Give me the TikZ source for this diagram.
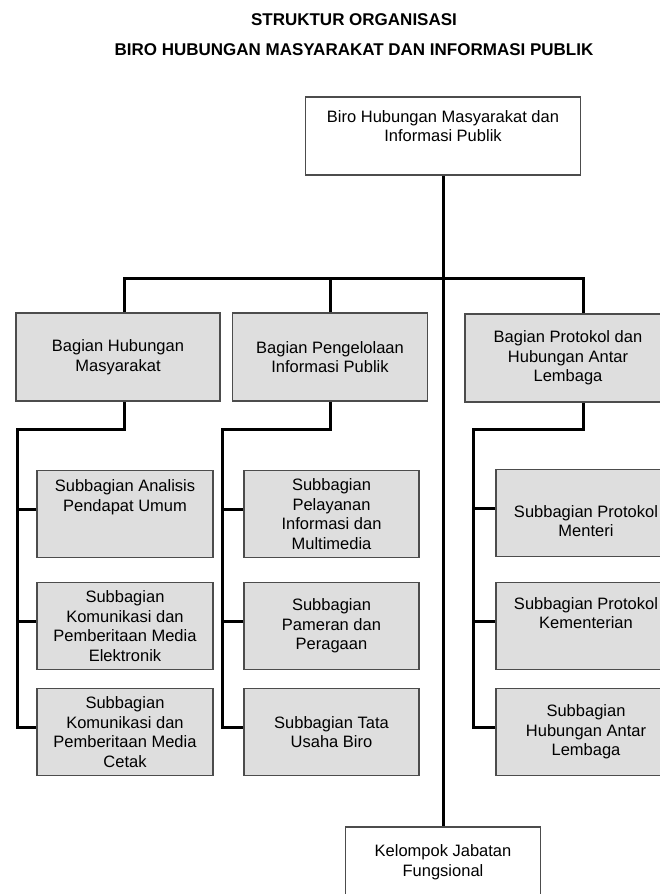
\documentclass[tikz,border=0pt]{standalone}
\usepackage{fontspec}
\setmainfont{Liberation Sans}
\tikzset{
  unit/.style={draw=black!70, line width=1.7pt, align=center, text=black,
    font=\fontsize{16.5}{19.5}\selectfont, inner sep=0pt},
  headbox/.style={unit, fill=white},
  bagbox/.style={unit, fill=black!13, minimum height=88pt},
  subbox/.style={unit, fill=black!13, minimum height=87pt},
  boxtext/.style={align=center, text=black, font=\fontsize{16.5}{19.5}\selectfont},
  conn/.style={line width=3pt, black},
  judul/.style={font=\bfseries\fontsize{17}{19}\selectfont, text=black}
}

\begin{document}
\begin{tikzpicture}[x=1pt,y=-1pt]
\useasboundingbox (0,0) rectangle (660,894);
\clip (0,0) rectangle (660,894);

% judul
\node[judul] (judul1) at (354,20) {STRUKTUR ORGANISASI};
\node[judul] (judul2) at (354,50) {BIRO HUBUNGAN MASYARAKAT DAN INFORMASI PUBLIK};

% biro
\node[headbox, minimum width=275pt, minimum height=78pt] (biro) at (443,136) {};
\node[boxtext] (biro-t) at ([yshift=10pt]biro) {Biro Hubungan Masyarakat dan\\Informasi Publik};

% bagian
\node[bagbox, minimum width=204pt] (humas) at (118,357) {Bagian Hubungan\\Masyarakat};
\node[bagbox, minimum width=195pt] (pip) at (330,357) {Bagian Pengelolaan\\Informasi Publik};
\node[bagbox, minimum width=206pt] (prot) at (568,358) {Bagian Protokol dan\\Hubungan Antar\\Lembaga};

% subbagian humas
\node[subbox, minimum width=176pt] (sa1) at (125,514) {};
\node[boxtext] (sa1-t) at ([yshift=17pt]sa1) {Subbagian Analisis\\Pendapat Umum};
\node[subbox, minimum width=176pt] (sa2) at (125,626) {Subbagian\\Komunikasi dan\\Pemberitaan Media\\Elektronik};
\node[subbox, minimum width=176pt] (sa3) at (125,732) {Subbagian\\Komunikasi dan\\Pemberitaan Media\\Cetak};

% subbagian pip
\node[subbox, minimum width=175pt] (sb1) at (331.5,514) {Subbagian\\Pelayanan\\Informasi dan\\Multimedia};
\node[subbox, minimum width=175pt] (sb2) at (331.5,626) {Subbagian\\Pameran dan\\Peragaan};
\node[subbox, minimum width=175pt] (sb3) at (331.5,732) {Subbagian Tata\\Usaha Biro};

% subbagian protokol
\node[subbox, minimum width=180pt] (sc1) at (586,513) {};
\node[boxtext] (sc1-t) at ([yshift=-8pt]sc1) {Subbagian Protokol\\Menteri};
\node[subbox, minimum width=180pt] (sc2) at (586,626) {};
\node[boxtext] (sc2-t) at ([yshift=13pt]sc2) {Subbagian Protokol\\Kementerian};
\node[subbox, minimum width=180pt] (sc3) at (586,732) {Subbagian\\Hubungan Antar\\Lembaga};

% fungsional
\node[headbox, minimum width=195pt, minimum height=70pt] (kel) at (443,862) {Kelompok Jabatan\\Fungsional};

% garis
\coordinate (bus) at (443,278);
\coordinate (railA) at (17,429);
\coordinate (railB) at (222,429);
\coordinate (railC) at (473,429);

\draw[conn] (biro.south) -- (kel.north);
\draw[conn] ([xshift=6pt]humas.north) |- (bus) -| ([xshift=15pt]prot.north);
\draw[conn] (pip.north) -- (pip.north |- bus);

\draw[conn] ([xshift=6pt]humas.south) |- (railA) |- ([yshift=5pt]sa3.west);
\draw[conn] (pip.south) |- (railB) |- ([yshift=5pt]sb3.west);
\draw[conn] ([xshift=15pt]prot.south) |- (railC) |- ([yshift=5pt]sc3.west);
\foreach \s in {sa1,sa2}
  \draw[conn] ([yshift=5pt]\s.west) -- ([yshift=5pt]\s.west -| railA);
\foreach \s in {sb1,sb2}
  \draw[conn] ([yshift=5pt]\s.west) -- ([yshift=5pt]\s.west -| railB);
\foreach \s in {sc1,sc2}
  \draw[conn] ([yshift=5pt]\s.west) -- ([yshift=5pt]\s.west -| railC);
\end{tikzpicture}
\end{document}
